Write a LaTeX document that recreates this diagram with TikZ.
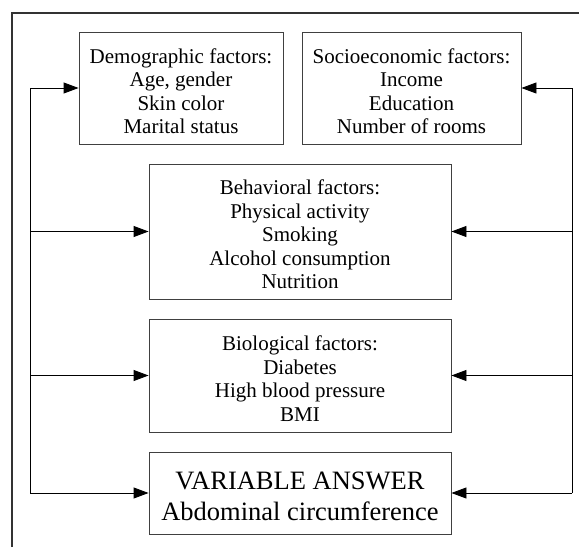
\documentclass[tikz,border=0pt]{standalone}
\usepackage{fontspec}
\setmainfont{Liberation Serif}
\usetikzlibrary{arrows.meta}
\newcommand\lowr[1]{\rule{0pt}{#1}}
\begin{document}
\begin{tikzpicture}[x=1pt,y=-1pt,
  fbox/.style={draw=black!75,line width=0.9pt,rectangle,inner sep=0pt,align=center,
    font=\fontsize{21}{23.5}\selectfont},
  arr/.style={draw=black,line width=0.9pt,-{Triangle[length=15pt,width=11pt]}},
  conn/.style={draw=black,line width=0.9pt}]
\useasboundingbox (0,0) rectangle (579,547);
\draw[line width=1.3pt,black!80] (12,547) -- (12,13) -- (579,13);
\node[fbox,minimum width=204pt,minimum height=112pt] (demo) at (181,88)
  {\lowr{21pt}Demographic factors:\\Age, gender\\Skin color\\Marital status};
\node[fbox,minimum width=219pt,minimum height=112pt] (socio) at (411.5,88)
  {\lowr{21pt}Socioeconomic factors:\\Income\\Education\\Number of rooms};
\node[fbox,minimum width=302pt,minimum height=135pt] (behav) at (300,231.5)
  {\lowr{21pt}Behavioral factors:\\Physical activity\\Smoking\\Alcohol consumption\\Nutrition};
\node[fbox,minimum width=302pt,minimum height=113pt] (bio) at (300,375.5)
  {\lowr{21pt}Biological factors:\\Diabetes\\High blood pressure\\BMI};
\node[fbox,minimum width=302pt,minimum height=82pt,font=\fontsize{26.5}{31}\selectfont] (var) at (300,493)
  {\lowr{24.5pt}VARIABLE ANSWER\\Abdominal circumference};
\coordinate (ltop) at (30,88);
\coordinate (lbot) at (30,493);
\coordinate (rtop) at (572,88);
\coordinate (rbot) at (572,493);
\draw[conn] (ltop) -- (lbot);
\draw[conn] (rtop) -- (rbot);
\draw[arr] (ltop) -- (demo.west);
\draw[arr] (behav.west -| ltop) -- (behav.west);
\draw[arr] (bio.west -| ltop) -- (bio.west);
\draw[arr] (lbot) -- (var.west);
\draw[arr] (rtop) -- (socio.east);
\draw[arr] (behav.east -| rtop) -- (behav.east);
\draw[arr] (bio.east -| rtop) -- (bio.east);
\draw[arr] (rbot) -- (var.east);
\end{tikzpicture}
\end{document}
